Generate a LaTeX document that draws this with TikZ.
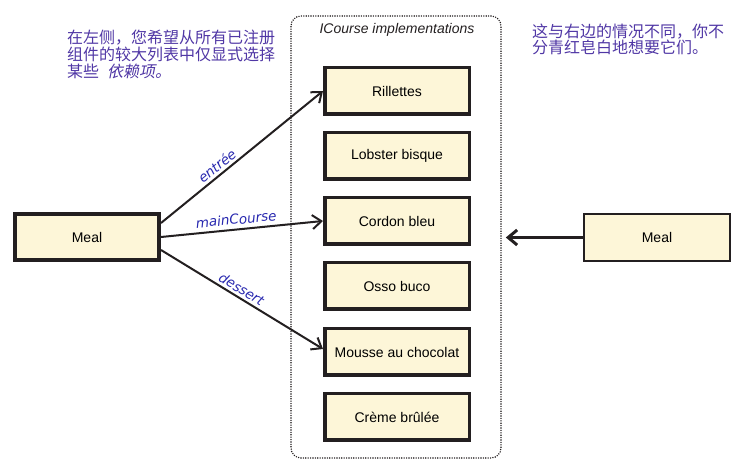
\documentclass[tikz,border=0pt]{standalone}
\usepackage{fontspec}
\setmainfont{Liberation Sans}
\newfontfamily\cjk{Noto Sans CJK SC}
\newfontfamily\cjkit[FakeSlant=0.2]{Noto Sans CJK SC}
\newfontfamily\lblfont{DejaVu Sans}
\usetikzlibrary{arrows.meta}
\definecolor{boxfill}{RGB}{253,246,216}
\definecolor{boxline}{RGB}{35,31,32}
\definecolor{cjkcol}{RGB}{80,55,165}
\definecolor{lblcol}{RGB}{40,40,175}
\begin{document}
\begin{tikzpicture}[x=1pt,y=-1pt,
  course/.style={draw=boxline, fill=boxfill, line width=3.5pt, minimum width=144.5pt, minimum height=46.5pt, inner sep=0pt, font=\fontsize{14}{16}\selectfont},
  mealbox/.style={draw=boxline, fill=boxfill, inner sep=0pt, font=\fontsize{14}{16}\selectfont},
  conn/.style={draw=boxline, line width=2pt, -{Straight Barb[length=9pt,width=14pt,line width=2pt]}},
  lbl/.style={font=\lblfont\itshape\fontsize{13.5}{15}\selectfont, text=lblcol, sloped, above, inner sep=2.5pt},
  cjktext/.style={anchor=base west, inner sep=0pt, text=cjkcol, font=\cjk\fontsize{16}{17}\selectfont}]
\useasboundingbox (0,0) rectangle (748,473);
% container
\node (cont) [draw=boxline, line width=1.6pt, line cap=round, dash pattern=on 0pt off 2.4pt, rounded corners=10pt, minimum width=210pt, minimum height=442pt, inner sep=0pt] at (396,237) {};
\node (title) at (397,30) [font=\itshape\fontsize{14}{16}\selectfont, text=boxline] {ICourse implementations};
% course boxes
\node (ril) [course] at (397,91) {Rillettes};
\node (lob) [course] at (397,156) {Lobster bisque};
\node (cor) [course] at (397,221) {Cordon bleu};
\node (oss) [course] at (397,286) {Osso buco};
\node (mou) [course] at (397,352) {Mousse au chocolat};
\node (cre) [course] at (397,417) {Crème brûlée};
% meal boxes
\node (lm) [mealbox, line width=4pt, minimum width=144pt, minimum height=46pt] at (87,237) {Meal};
\node (rm) [mealbox, line width=2pt, minimum width=146pt, minimum height=47pt] at (657,237.5) {Meal};
% connectors
\draw[conn] ([yshift=14pt]lm.east) -- node[lbl, pos=0.38] {entrée} (ril.west);
\draw[conn] (lm.east) -- node[lbl, pos=0.47, inner sep=4pt] {mainCourse} (cor.west);
\draw[conn] ([yshift=-13pt]lm.east) -- node[lbl, pos=0.47] {dessert} ([yshift=3pt]mou.west);
\coordinate (rtip) at ([xshift=4pt]cont.east |- rm.west);
\draw[draw=boxline, line width=3.5pt, -{Straight Barb[length=9pt,width=15pt,line width=3pt]}] (rm.west) -- (rtip);
% Chinese notes
\node (l1) [cjktext] at (67,44) {在左侧，您希望从所有已注册};
\node (l2) [cjktext] at (67,61) {组件的较大列表中仅显式选择};
\node (l3) [cjktext] at (67,78) {某些\hspace{8pt}{\cjkit 依赖项。}};
\node (r1) [cjktext] at (532,37.5) {这与右边的情况不同，你不};
\node (r2) [cjktext] at (532,54) {分青红皂白地想要它们。};
\end{tikzpicture}
\end{document}
